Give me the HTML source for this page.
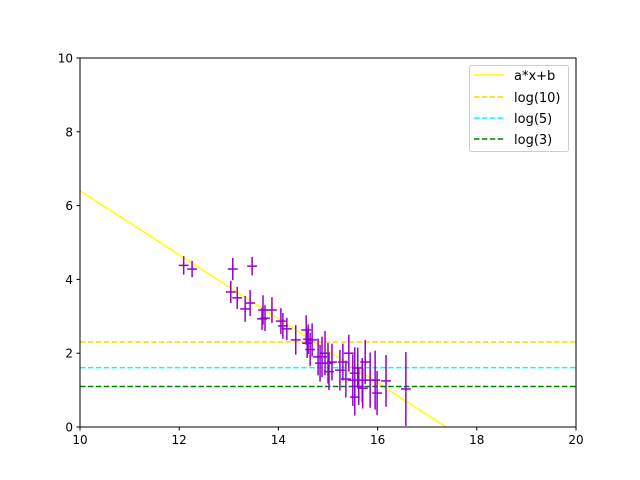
<!DOCTYPE html>
<html><head><meta charset="utf-8"><style>
html,body{margin:0;padding:0;background:#fff;width:640px;height:480px;overflow:hidden}
svg{display:block;font-family:"DejaVu Sans","Liberation Sans",sans-serif}
</style></head><body>
<svg id="chart" width="640" height="480" viewBox="0 0 640 480">
<rect x="0" y="0" width="640" height="480" fill="#fff"/>
<g id="plot"></g>
<g id="axes"></g>
<g id="legend">
<rect x="469.5" y="65.5" width="99" height="86" rx="2" fill="#fff" fill-opacity="0.8" stroke="#ccc"/>
<line x1="474" y1="75" x2="504" y2="75" stroke="#ffff00" stroke-width="1.5"/>
<text x="514" y="80" font-size="13">a*x+b</text>
<line x1="474" y1="97" x2="504" y2="97" stroke="#ffd700" stroke-width="1.5" stroke-dasharray="5.5,2.4"/>
<text x="514" y="102" font-size="13">log(10)</text>
<line x1="474" y1="118" x2="504" y2="118" stroke="#00ffff" stroke-width="1.5" stroke-dasharray="5.5,2.4"/>
<text x="514" y="123" font-size="13">log(5)</text>
<line x1="474" y1="139" x2="504" y2="139" stroke="#008000" stroke-width="1.5" stroke-dasharray="5.5,2.4"/>
<text x="514" y="144" font-size="13">log(3)</text>
</g>
</svg>
<script>
const xVals=[12.09,12.26,13.08,13.47,13.04,13.17,13.33,13.43,13.69,13.73,13.87,13.67,14.05,14.09,14.17,14.35,14.56,14.6,14.68,14.8,14.58,14.64,14.84,14.88,14.94,15.0,15.08,15.24,15.3,15.42,15.5,15.54,15.6,15.69,15.75,15.85,15.95,16.17,16.57,15.54,15.7,15.99,15.02,15.36,15.62];
const yVals=[4.38,4.28,4.28,4.36,3.66,3.5,3.2,3.36,3.17,2.95,3.17,2.93,2.87,2.74,2.66,2.36,2.63,2.38,2.36,1.9,2.27,2.1,1.73,1.9,2.0,1.73,1.76,1.54,1.76,2.0,1.27,1.46,1.6,1.27,1.76,1.27,1.27,1.25,1.03,0.81,1.05,0.92,1.5,1.3,1.1];
const yErr=[0.25,0.22,0.3,0.25,0.3,0.3,0.35,0.35,0.4,0.35,0.35,0.3,0.35,0.35,0.3,0.4,0.4,0.4,0.45,0.5,0.4,0.45,0.5,0.55,0.6,0.55,0.5,0.55,0.5,0.5,0.7,0.7,0.55,0.6,0.6,0.75,0.8,0.7,1.0,0.5,0.55,0.6,0.5,0.5,0.5];
const xErr=[0.1,0.1,0.1,0.1,0.1,0.1,0.1,0.1,0.1,0.1,0.1,0.1,0.1,0.1,0.1,0.1,0.1,0.1,0.1,0.1,0.1,0.1,0.1,0.1,0.1,0.1,0.1,0.1,0.1,0.1,0.1,0.1,0.1,0.1,0.1,0.1,0.1,0.1,0.1,0.1,0.1,0.1,0.1,0.1,0.1];
const fitA=-0.867, fitB=15.07;
const hLines=[2.303,1.609,1.099];
const hColors=['#ffd700','#00ffff','#008000'];
const hNames=['log10','log5','log3'];
const xTicks=[10,12,14,16,18,20];
const yTicks=[0,2,4,6,8,10];
const X0=80,X1=576,Y0=427,Y1=58;
const sx=v=>X0+(v-10)/10*(X1-X0);
const sy=v=>Y0-(v-0)/10*(Y0-Y1);
const NS='http://www.w3.org/2000/svg';
const plot=document.getElementById('plot'),axes=document.getElementById('axes');
function mk(tag,attrs,parent){const e=document.createElementNS(NS,tag);for(const k in attrs)e.setAttribute(k,attrs[k]);parent.appendChild(e);return e;}
const cp=mk('clipPath',{id:'clip'},plot);mk('rect',{x:X0,y:Y1,width:X1-X0,height:Y0-Y1},cp);
const g=mk('g',{'clip-path':'url(#clip)'},plot);
let fl=mk('line',{x1:sx(10),y1:sy(fitA*10+fitB),x2:sx(20),y2:sy(fitA*20+fitB),stroke:'#ffff00','stroke-width':1.5},g);


hLines.forEach((v,i)=>{const l=mk('line',{x1:sx(10),y1:sy(v),x2:sx(20),y2:sy(v),stroke:hColors[i],'stroke-width':1.5,'stroke-dasharray':'5.5,2.4'},g);

});
xVals.forEach((x,i)=>{const y=yVals[i];const eg=mk('g',{stroke:'#9400d3','stroke-width':1.5},g);


mk('line',{x1:sx(x),y1:sy(y-yErr[i]),x2:sx(x),y2:sy(y+yErr[i])},eg);
mk('line',{x1:sx(x-xErr[i]),y1:sy(y),x2:sx(x+xErr[i]),y2:sy(y)},eg);});
const fr=mk('rect',{x:X0,y:Y1,width:X1-X0,height:Y0-Y1,fill:'none',stroke:'#000','stroke-width':1},axes);


xTicks.forEach(t=>{mk('line',{x1:sx(t),y1:Y0,x2:sx(t),y2:Y0+3.5,stroke:'#000'},axes);
const tx=mk('text',{x:sx(t),y:Y0+17,'font-size':12,'text-anchor':'middle'},axes);tx.textContent=t;

});
yTicks.forEach(t=>{mk('line',{x1:X0-3.5,y1:sy(t),x2:X0,y2:sy(t),stroke:'#000'},axes);
const tx=mk('text',{x:X0-7,y:sy(t)+4.5,'font-size':12,'text-anchor':'end'},axes);tx.textContent=t;

});
</script>
</body></html>
